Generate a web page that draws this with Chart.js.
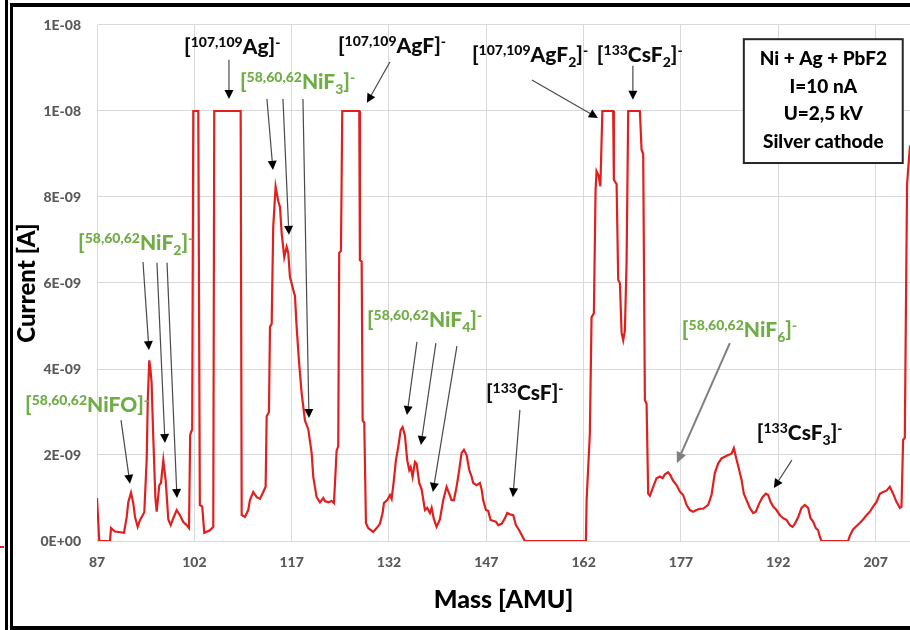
<!DOCTYPE html>
<html>
<head>
<meta charset="utf-8">
<title>Ni + Ag + PbF2 mass spectrum</title>
<script src="https://cdn.jsdelivr.net/npm/chart.js@4.4.0/dist/chart.umd.min.js"></script>
<style>
  body { margin: 0; background: #fff; }
  canvas { display: block; }
</style>
</head>
<body>
<canvas id="myChart" width="910" height="630"></canvas>
<script>
// spectrum: mass [AMU] and current in nA (1E-09 A)
const massAmu = [
  87.0, 87.35, 89.0, 89.16, 89.77, 91.16, 91.58, 91.82, 92.24, 92.59, 92.86, 93.27, 93.63, 94.04, 94.29,
  94.66, 94.83, 95.06, 95.24, 95.42, 95.63, 95.83, 96.0, 96.2, 96.6, 96.86, 97.22, 97.59, 97.99, 98.36,
  98.76, 99.28, 99.79, 100.3, 100.82, 101.18, 101.36, 101.67, 101.84, 102.61, 102.85, 103.22, 103.53, 104.41, 104.92,
  105.07, 109.14, 109.3, 109.8, 110.31, 110.57, 111.08, 111.61, 112.12, 112.62, 112.99, 113.15, 113.5, 113.66, 113.92,
  114.16, 114.53, 114.94, 115.2, 115.46, 115.86, 116.23, 116.48, 116.74, 117.25, 117.51, 117.77, 118.12, 118.54, 119.05,
  119.56, 120.08, 120.33, 120.85, 121.36, 121.87, 122.13, 122.64, 123.16, 123.52, 123.93, 124.18, 124.33, 124.6, 124.8,
  127.42, 127.52, 127.79, 127.94, 128.19, 128.45, 128.8, 129.57, 130.1, 130.6, 131.02, 131.22, 131.73, 132.15, 132.41,
  132.76, 133.07, 133.43, 133.8, 134.1, 134.46, 134.81, 135.12, 135.34, 135.64, 136.0, 136.26, 136.66, 137.03, 137.54,
  137.89, 138.31, 138.57, 138.93, 139.34, 139.85, 140.36, 140.88, 141.28, 141.65, 142.01, 142.42, 142.82, 143.19, 143.55,
  143.96, 144.37, 144.73, 144.98, 145.51, 146.01, 146.28, 146.52, 146.94, 147.29, 147.66, 148.48, 148.83, 149.36, 149.87,
  150.22, 150.64, 151.15, 151.56, 152.07, 152.59, 152.95, 162.35, 162.46, 162.96, 163.22, 163.58, 163.84, 163.99, 164.3,
  164.58, 164.89, 166.55, 166.66, 167.08, 167.33, 167.59, 167.85, 168.1, 168.36, 168.62, 168.87, 170.67, 170.93, 171.18,
  171.44, 171.7, 171.95, 172.21, 172.72, 173.24, 173.75, 174.17, 174.52, 175.03, 175.4, 175.8, 176.32, 176.83, 177.34,
  177.86, 178.37, 178.88, 179.4, 179.91, 180.42, 181.19, 181.71, 182.22, 182.73, 183.25, 183.76, 184.27, 184.8, 185.15,
  185.46, 185.81, 186.34, 186.69, 187.11, 187.62, 188.13, 188.54, 189.05, 189.57, 190.08, 190.44, 190.81, 191.21, 191.73,
  192.24, 192.75, 193.27, 193.78, 194.19, 194.55, 195.06, 195.58, 196.09, 196.6, 196.97, 197.37, 197.79, 198.14, 198.4,
  198.66, 202.76, 203.02, 203.53, 204.06, 204.56, 205.07, 205.6, 206.1, 206.61, 207.14, 207.65, 208.16, 208.68, 209.19,
  209.7, 210.22, 210.73, 210.99, 211.24, 211.5, 211.65, 211.85, 212.0, 212.3, 212.6
];
const currentNanoA = [
  1.0, 0, 0, 0.3, 0.22, 0.19, 0.56, 0.9, 1.12, 0.88, 0.56, 0.33, 0.49, 0.6, 0.67,
  1.9, 3.3, 4.2, 4.0, 3.67, 2.6, 1.73, 1.0, 0.68, 1.3, 1.35, 1.88, 1.4, 0.5, 0.37,
  0.53, 0.72, 0.6, 0.44, 0.37, 0.3, 2.47, 2.6, 10, 10, 0.84, 0.8, 0.19, 0.25, 0.33,
  10, 10, 0.6, 0.56, 0.72, 0.95, 1.14, 1.02, 0.98, 1.14, 1.26, 2.9, 3.0, 4.98, 5.05,
  7.3, 8.24, 7.9, 7.77, 7.16, 6.6, 6.84, 6.7, 6.14, 5.84, 5.7, 4.98, 4.2, 3.44, 2.8,
  2.6, 2.05, 1.49, 1.02, 0.9, 1.0, 0.93, 0.9, 0.93, 0.88, 2.1, 2.2, 6.7, 6.75, 10,
  10, 6.53, 6.5, 2.8, 2.75, 0.42, 0.3, 0.21, 0.3, 0.4, 0.65, 0.88, 0.95, 1.07, 0.98,
  1.42, 1.88, 2.19, 2.58, 2.65, 2.45, 1.88, 1.65, 1.72, 1.49, 1.84, 1.8, 1.35, 1.2, 0.72,
  0.77, 0.65, 0.77, 0.5, 0.33, 0.5, 0.95, 1.26, 1.1, 0.95, 0.95, 1.26, 1.65, 2.05, 2.12,
  2.0, 1.65, 1.5, 1.35, 1.3, 1.35, 1.2, 0.95, 0.72, 0.7, 0.49, 0.45, 0.37, 0.4, 0.53,
  0.65, 0.62, 0.6, 0.37, 0.25, 0.1, 0, 0, 0.95, 2.5, 5.2, 5.3, 8.16, 8.6, 8.5,
  8.25, 10, 10, 8.4, 8.3, 6.07, 6.0, 4.84, 4.67, 4.9, 6.5, 10, 10, 9.1, 9.0,
  3.28, 3.2, 1.1, 1.05, 1.26, 1.46, 1.5, 1.46, 1.55, 1.6, 1.52, 1.4, 1.3, 1.15, 1.07,
  0.84, 0.72, 0.68, 0.72, 0.75, 0.75, 0.84, 1.07, 1.58, 1.8, 1.92, 1.96, 2.0, 2.03, 2.16,
  1.96, 1.75, 1.42, 1.1, 0.95, 0.77, 0.65, 0.68, 0.87, 1.02, 1.1, 1.07, 0.91, 0.8, 0.72,
  0.6, 0.53, 0.49, 0.37, 0.33, 0.4, 0.55, 0.77, 0.84, 0.77, 0.53, 0.45, 0.3, 0.25, 0.1,
  0, 0, 0.12, 0.27, 0.35, 0.42, 0.5, 0.6, 0.68, 0.8, 0.91, 1.1, 1.14, 1.17, 1.26,
  1.1, 0.91, 0.77, 0.8, 2.35, 2.4, 5.0, 8.3, 8.6, 9.2, 10
];
const xTicks = [87, 102, 117, 132, 147, 162, 177, 192, 207];
const yTicksNanoA = [0, 2, 4, 6, 8, 10, 12];

const boxLines = ['Ni + Ag + PbF2', 'I=10 nA', 'U=2,5 kV', 'Silver cathode'];

// peak labels: parts are [text, 0 normal | 1 sup | -1 sub]; at = left/baseline in (AMU, nA)
const GREEN = '#70ad47', BLACK = '#0d0d0d';
const peakLabels = [
  { at: [100.41, 11.33], color: BLACK, parts: [['[', 0], ['107,109', 1], ['Ag', 0], [']', 0], ['-', 1]] },
  { at: [109.03, 10.51], color: GREEN, parts: [['[', 0], ['58,60,62', 1], ['NiF', 0], ['3', -1], [']', 0], ['-', 1]] },
  { at: [124.13, 11.35], color: BLACK, parts: [['[', 0], ['107,109', 1], ['AgF', 0], [']', 0], ['-', 1]] },
  { at: [144.78, 11.14], color: BLACK, parts: [['[', 0], ['107,109', 1], ['AgF', 0], ['2', -1], [']', 0], ['-', 1]] },
  { at: [164.04, 11.14], color: BLACK, parts: [['[', 0], ['133', 1], ['CsF', 0], ['2', -1], [']', 0], ['-', 1]] },
  { at: [84.07, 6.77], color: GREEN, parts: [['[', 0], ['58,60,62', 1], ['NiF', 0], ['2', -1], [']', 0], ['-', 1]] },
  { at: [75.91, 3.0], color: GREEN, parts: [['[', 0], ['58,60,62', 1], ['NiFO', 0], [']', 0], ['-', 1]] },
  { at: [128.6, 4.98], color: GREEN, parts: [['[', 0], ['58,60,62', 1], ['NiF', 0], ['4', -1], [']', 0], ['-', 1]] },
  { at: [146.94, 3.28], color: BLACK, parts: [['[', 0], ['133', 1], ['CsF', 0], [']', 0], ['-', 1]] },
  { at: [177.14, 4.74], color: GREEN, parts: [['[', 0], ['58,60,62', 1], ['NiF', 0], ['6', -1], [']', 0], ['-', 1]] },
  { at: [188.69, 2.35], color: BLACK, parts: [['[', 0], ['133', 1], ['CsF', 0], ['3', -1], [']', 0], ['-', 1]] }
];
// arrows: from -> to in (AMU, nA)
const peakArrows = [
  { from: [107.34, 11.19], to: [107.34, 10.28] },
  { from: [113.19, 10.28], to: [114.12, 8.63] },
  { from: [115.66, 10.28], to: [116.58, 7.12] },
  { from: [118.74, 10.28], to: [119.67, 2.86] },
  { from: [132.15, 11.14], to: [128.6, 10.19] },
  { from: [154.03, 10.72], to: [164.2, 9.84] },
  { from: [169.59, 11.05], to: [169.59, 10.26] },
  { from: [94.09, 6.49], to: [95.01, 4.44] },
  { from: [96.24, 6.47], to: [97.48, 2.28] },
  { from: [97.79, 6.47], to: [99.33, 1.0] },
  { from: [90.7, 2.81], to: [92.08, 1.33] },
  { from: [136.31, 4.63], to: [134.77, 2.93] },
  { from: [139.23, 4.6], to: [136.92, 2.23] },
  { from: [142.47, 4.53], to: [138.77, 1.14] },
  { from: [152.18, 3.05], to: [151.1, 1.02] },
  { from: [184.53, 4.6], to: [176.37, 1.81], grey: true },
  { from: [194.09, 1.88], to: [191.32, 1.23] }
];
const boxCorners = [[186.69, 11.67], [211.18, 8.79]];

const FONT = "Lato, 'Open Sans', sans-serif";

function sciLabel(v) {
  // Excel style 0E+00 / 2E-09
  const s = Number(v).toExponential(0);
  const [m, e] = s.split('e');
  const n = parseInt(e, 10);
  const ex = (n < 0 ? '-' : '+') + String(Math.abs(n)).padStart(2, '0');
  return m + 'E' + ex;
}

function drawRich(ctx, x, y, parts, color) {
  ctx.fillStyle = color;
  ctx.textAlign = 'left';
  ctx.textBaseline = 'alphabetic';
  parts.forEach(([t, k]) => {
    const size = k === 0 ? 21 : 14;
    ctx.font = `900 ${size}px ${FONT}`;
    const dy = k === 1 ? -7 : (k === -1 ? 5 : 0);
    ctx.fillText(t, x, y + dy);
    x += ctx.measureText(t).width;
  });
}

function drawArrow(ctx, x1, y1, x2, y2, grey) {
  const ang = Math.atan2(y2 - y1, x2 - x1);
  const L = grey ? 11 : 9, W = grey ? 5 : 4.5;
  const bx = x2 - L * Math.cos(ang), by = y2 - L * Math.sin(ang);
  ctx.strokeStyle = grey ? '#7f7f7f' : '#4a4a4a';
  ctx.lineWidth = grey ? 2 : 1.2;
  ctx.beginPath();
  ctx.moveTo(x1, y1);
  ctx.lineTo(bx, by);
  ctx.stroke();
  ctx.fillStyle = grey ? '#7f7f7f' : '#000';
  ctx.beginPath();
  ctx.moveTo(x2, y2);
  ctx.lineTo(bx + W * Math.sin(ang), by - W * Math.cos(ang));
  ctx.lineTo(bx - W * Math.sin(ang), by + W * Math.cos(ang));
  ctx.closePath();
  ctx.fill();
}

const decor = {
  id: 'decor',
  beforeDraw(chart) {
    const ctx = chart.ctx;
    ctx.save();
    ctx.fillStyle = '#fff';
    ctx.fillRect(0, 0, chart.width, chart.height);
    ctx.restore();
  },
  afterDraw(chart) {
    const { ctx, scales: { x, y } } = chart;
    const px = m => x.getPixelForValue(m);
    const py = v => y.getPixelForValue(v * 1e-9);
    ctx.save();

    peakArrows.forEach(a => drawArrow(ctx, px(a.from[0]), py(a.from[1]), px(a.to[0]), py(a.to[1]), a.grey));
    peakLabels.forEach(l => drawRich(ctx, px(l.at[0]), py(l.at[1]), l.parts, l.color));

    // info box
    const bx1 = px(boxCorners[0][0]), by1 = py(boxCorners[0][1]);
    const bx2 = px(boxCorners[1][0]), by2 = py(boxCorners[1][1]);
    ctx.fillStyle = '#fff';
    ctx.fillRect(bx1, by1, bx2 - bx1, by2 - by1);
    ctx.strokeStyle = '#262626';
    ctx.lineWidth = 2;
    ctx.strokeRect(bx1, by1, bx2 - bx1, by2 - by1);
    ctx.fillStyle = '#000';
    ctx.font = `900 19px ${FONT}`;
    ctx.textAlign = 'center';
    ctx.textBaseline = 'alphabetic';
    boxLines.forEach((t, i) => ctx.fillText(t, (bx1 + bx2) / 2, by1 + 26 + i * 27.5));

    // picture frame
    ctx.fillStyle = '#000';
    ctx.fillRect(5, 0, 3, 630);
    ctx.fillRect(10, 3, 3, 627);
    ctx.fillRect(10, 3, 900, 4);
    ctx.fillRect(10, 626, 900, 4);
    ctx.fillStyle = '#e0201e';
    ctx.fillRect(0, 546, 4, 2);
    ctx.restore();
  }
};

const points = massAmu.map((m, i) => ({ x: m, y: currentNanoA[i] * 1e-9 }));

const ctx = document.getElementById('myChart');
const myChart = new Chart(ctx, {
  type: 'line',
  data: {
    datasets: [{
      data: points,
      borderColor: '#e0201e',
      borderWidth: 2.2,
      pointRadius: 0,
      tension: 0,
      fill: false
    }]
  },
  options: {
    responsive: false,
    animation: false,
    devicePixelRatio: 1,
    layout: { padding: { top: 25, left: 0, right: 0, bottom: 0 } },
    plugins: { legend: { display: false }, tooltip: { enabled: false } },
    scales: {
      x: {
        type: 'linear',
        min: 87,
        max: 212.3,
        afterBuildTicks: ax => { ax.ticks = xTicks.map(v => ({ value: v })); },
        afterFit: ax => { ax.height = 89; },
        grid: { color: '#d9d9d9', drawTicks: false },
        border: { color: '#d9d9d9' },
        ticks: {
          padding: 13, color: '#595959', autoSkip: false, maxRotation: 0,
          font: { family: FONT, size: 14, weight: '900' },
          callback: v => String(v)
        },
        title: {
          display: true, text: 'Mass [AMU]', color: '#000',
          font: { family: FONT, size: 25, weight: '900' },
          padding: { top: 0, bottom: 15 }
        }
      },
      y: {
        min: 0,
        max: 1.2e-8,
        afterBuildTicks: ax => { ax.ticks = yTicksNanoA.map(v => ({ value: v * 1e-9 })); },
        afterFit: ax => { ax.width = 97; },
        grid: { color: '#d9d9d9', drawTicks: false },
        border: { color: '#d9d9d9' },
        ticks: {
          padding: 16, color: '#595959',
          font: { family: FONT, size: 14, weight: '900' },
          callback: v => sciLabel(v)
        },
        title: {
          display: true, text: 'Current [A]', color: '#000',
          font: { family: FONT, size: 24, weight: '900' },
          padding: { top: 13, bottom: 0 }
        }
      }
    }
  },
  plugins: [decor]
});
</script>
</body>
</html>
